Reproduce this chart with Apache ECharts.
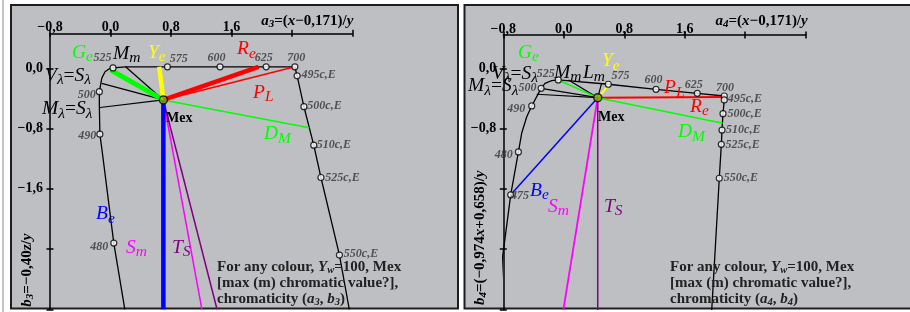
<!DOCTYPE html>
<html>
<head>
<meta charset="utf-8">
<script src="https://cdn.jsdelivr.net/npm/echarts@6/dist/echarts.min.js"></script>
<style>
  html, body { margin: 0; padding: 0; background: #fff; }
  #chart { width: 910px; height: 312px; }
</style>
</head>
<body>
<div id="chart"></div>
<script>
// axis ticks shared by both panels
var xTicks = [-0.8, 0, 0.8, 1.6, 2.4, 3.2];
var xLabels = [-0.8, 0, 0.8, 1.6];
var yTicks = [-3.2, -2.4, -1.6, -0.8, 0];
var yLabels3 = [-1.6, -0.8, 0];
var yLabels4 = [-0.8, 0];

// left panel: (a3, b3)
var mex3 = [0.70, -0.42];
var locus3 = [[0.19, -3.2], [0.044, -2.32], [-0.11, -1.1], [-0.14, -0.875], [-0.147, -0.5],
  [-0.147, -0.31], [-0.115, -0.133], [-0.072, -0.045], [-0.005, 0.0], [0.034, 0.005],
  [0.2, 0.02], [0.754, 0.02], [1.45, 0.02], [2.06, 0.02], [2.44, 0.02], [2.47, -0.1],
  [2.56, -0.51], [2.69, -1.02], [2.785, -1.45], [3.03, -2.48], [3.16, -3.2]];
var marks3 = [['525', 0.034, 0.005], ['500', -0.147, -0.31], ['490', -0.14, -0.875],
  ['480', 0.044, -2.32], ['575', 0.754, 0.02], ['600', 1.45, 0.02], ['625', 2.06, 0.02],
  ['700', 2.44, 0.02], ['495c,E', 2.47, -0.1], ['500c,E', 2.56, -0.51],
  ['510c,E', 2.69, -1.02], ['525c,E', 2.785, -1.45], ['550c,E', 3.03, -2.48]];
var rays3 = [['Mm', 0.2, 0.02], ['Vl', -0.116, -0.2], ['Ml', -0.138, -0.52],
  ['PL', 2.44, 0.02], ['DM', 2.63, -0.79], ['Sm', 1.21, -3.2], ['TS', 1.41, -3.2],
  ['Ge', 0.0, -0.02], ['Ye', 0.645, 0.02], ['Re', 1.96, 0.02], ['Be', 0.70, -3.2]];

// right panel: (a4, b4)
var mex4 = [0.449, -0.39];
var locus4 = [[-0.844, -3.21], [-0.813, -2.53], [-0.702, -1.68], [-0.60, -1.11],
  [-0.557, -0.863], [-0.49, -0.643], [-0.424, -0.50], [-0.30, -0.266], [-0.248, -0.2],
  [-0.16, -0.165], [-0.073, -0.155], [0.589, -0.212], [1.22, -0.279], [1.766, -0.332],
  [2.123, -0.368], [2.123, -0.42], [2.106, -0.603], [2.093, -0.82], [2.084, -1.01],
  [2.057, -1.46], [1.957, -3.21]];
var marks4 = [['525', -0.073, -0.155], ['500', -0.30, -0.266], ['490', -0.424, -0.50],
  ['480', -0.60, -1.11], ['475', -0.702, -1.68], ['470', -0.813, -2.53],
  ['575', 0.589, -0.212], ['600', 1.22, -0.279], ['625', 1.766, -0.332],
  ['700', 2.123, -0.368], ['495c,E', 2.123, -0.42], ['500c,E', 2.106, -0.603],
  ['510c,E', 2.093, -0.82], ['525c,E', 2.084, -1.01], ['550c,E', 2.057, -1.46]];
var rays4 = [['Mm', 0.063, -0.155], ['Lm', 0.50, -0.2], ['Vl', -0.30, -0.266],
  ['Ml', -0.358, -0.345], ['Ge', -0.073, -0.155], ['Ye', 0.598, -0.222],
  ['Re', 2.123, -0.38], ['DM', 2.102, -0.73], ['Be', -0.702, -1.68],
  ['Sm', -0.006, -3.21], ['TS', 0.449, -3.21]];

// styles
var SERIF = '"Liberation Serif", "Times New Roman", serif';
var GRAY = '#bebfc3';
var GREEN = '#00ff00', YELLOW = '#ffff00', RED = '#ff0000', BLUE = '#0000ff',
  MAG = '#ff00ff', PURP = '#800080';

var rayStyle3 = {
  Mm: ['#000', 1.2], Vl: ['#000', 1.2], Ml: ['#000', 1.2], PL: [RED, 1.5],
  DM: [GREEN, 1.5], Sm: [MAG, 1.5], TS: [PURP, 1.5],
  Ge: [GREEN, 5], Ye: [YELLOW, 4.5], Re: [RED, 4.5], Be: [BLUE, 4.5]
};
var rayStyle4 = {
  Mm: ['#000', 1.2], Lm: ['#000', 1.2], Vl: ['#000', 1.2], Ml: ['#000', 1.2],
  Ge: [GREEN, 1.5], Ye: [YELLOW, 2], Re: [RED, 2], DM: [GREEN, 1.5],
  Be: [BLUE, 1.5], Sm: [MAG, 1.8], TS: [PURP, 1.5]
};
// label placement for the marked points: [align, dx, dy] from the point
var labPos3 = {
  '525': ['right', -1, -9], '500': ['right', -3, 3.5], '490': ['right', -3, 2],
  '480': ['right', -5, 4], '575': ['left', 3, -7.5], '600': ['left', -12, -8.5],
  '625': ['left', -10.7, -8.5], '700': ['left', -7, -8.5], '495c,E': ['left', 5, -0.5],
  '500c,E': ['left', 4, 0], '510c,E': ['left', 3.5, 0], '525c,E': ['left', 5, 0.5],
  '550c,E': ['left', 5, -0.5]
};
var labPos4 = {
  '525': ['right', -3, -5], '500': ['right', -4, 0], '490': ['right', -6, 4],
  '480': ['right', -5, 4], '475': ['left', 1, 2], '470': ['right', -4, 3.5],
  '575': ['left', 3.7, -7.6], '600': ['left', -11, -9], '625': ['left', -12, -7.5],
  '700': ['left', -7.6, -7.7], '495c,E': ['left', 4, 0], '500c,E': ['left', 5, 0.6],
  '510c,E': ['left', 4.7, 0.7], '525c,E': ['left', 4.7, 1], '550c,E': ['left', 5, 0]
};

var RICH = {
  i: { fontFamily: SERIF, fontStyle: 'italic', fontSize: 19.5 },
  s: { fontFamily: SERIF, fontStyle: 'italic', fontSize: 15.5, padding: [9, 0, 0, 0] },
  n: { fontFamily: SERIF, fontSize: 19.5 },
  b: { fontFamily: SERIF, fontWeight: 'bold', fontSize: 15 },
  bi: { fontFamily: SERIF, fontWeight: 'bold', fontStyle: 'italic', fontSize: 15 },
  bs: { fontFamily: SERIF, fontWeight: 'bold', fontStyle: 'italic', fontSize: 10.5, padding: [7, 0, 0, 0] },
  m: { fontFamily: SERIF, fontWeight: 'bold', fontSize: 14 },
  t: { fontFamily: SERIF, fontWeight: 'bold', fontSize: 15 },
  ti: { fontFamily: SERIF, fontWeight: 'bold', fontStyle: 'italic', fontSize: 15 },
  ts: { fontFamily: SERIF, fontWeight: 'bold', fontStyle: 'italic', fontSize: 11, padding: [7, 0, 0, 0] }
};

function fmt(v) {
  return v.toFixed(1).replace('.', ',').replace('-', '\u2212');
}

function note(x, y, text, color, extra) {
  var el = {
    type: 'text', x: x, y: y, z: 100, silent: true,
    style: { text: text, fill: color, rich: RICH, align: 'left', verticalAlign: 'middle',
      font: 'italic 19px ' + SERIF }
  };
  return Object.assign(el, extra || {});
}

function makeAxes(gi, yLabels, ymax) {
  var line = { show: true, onZero: false, lineStyle: { color: '#000', width: 1.5 } };
  var lab = { fontFamily: SERIF, fontWeight: 'bold', fontSize: 14, color: '#000', formatter: fmt };
  var x = [
    { type: 'value', gridIndex: gi, position: 'top', min: -0.8, max: 3.2,
      axisLine: line, splitLine: { show: false },
      axisTick: { length: 3.5, customValues: xTicks, lineStyle: { color: '#000', width: 1.5 } },
      axisLabel: Object.assign({ customValues: xLabels, margin: -1 }, lab) },
    { type: 'value', gridIndex: gi, position: 'top', min: -0.8, max: 3.2,
      axisLine: { show: false, onZero: false }, splitLine: { show: false },
      axisTick: { inside: true, length: 3.5, customValues: xTicks, lineStyle: { color: '#000', width: 1.5 } },
      axisLabel: { show: false } }
  ];
  var y = [
    { type: 'value', gridIndex: gi, position: 'left', min: -3.2, max: ymax,
      axisLine: line, splitLine: { show: false },
      axisTick: { length: 3.5, customValues: yTicks, lineStyle: { color: '#000', width: 1.5 } },
      axisLabel: Object.assign({ customValues: yLabels, margin: 7 }, lab) },
    { type: 'value', gridIndex: gi, position: 'left', min: -3.2, max: ymax,
      axisLine: { show: false, onZero: false }, splitLine: { show: false },
      axisTick: { inside: true, length: 3.5, customValues: yTicks, lineStyle: { color: '#000', width: 1.5 } },
      axisLabel: { show: false } }
  ];
  return { x: x, y: y };
}

function panelSeries(gi, locus, marks, labPos, rays, rayStyle, mex) {
  var ai = gi * 2;
  var out = [];
  out.push({ type: 'line', xAxisIndex: ai, yAxisIndex: ai, data: locus, symbol: 'none',
    silent: true, z: 3, lineStyle: { color: '#000', width: 1.3 } });
  rays.forEach(function (r) {
    var st = rayStyle[r[0]];
    out.push({ type: 'line', xAxisIndex: ai, yAxisIndex: ai, data: [mex, [r[1], r[2]]],
      symbol: 'none', silent: true, z: st[1] > 3 ? 5 : 4,
      lineStyle: { color: st[0], width: st[1] } });
  });
  out.push({ type: 'scatter', xAxisIndex: ai, yAxisIndex: ai, silent: true, z: 6,
    symbol: 'circle', symbolSize: 6,
    itemStyle: { color: '#fff', borderColor: '#000', borderWidth: 1.2 },
    data: marks.map(function (m) {
      var p = labPos[m[0]];
      return { value: [m[1], m[2]], name: m[0],
        label: { show: true, formatter: m[0], position: [p[1] + 3, p[2] + 3],
          align: p[0], verticalAlign: 'middle', color: '#333', fontFamily: SERIF,
          fontStyle: 'italic', fontWeight: 'bold', fontSize: 12 } };
    }) });
  out.push({ type: 'scatter', xAxisIndex: ai, yAxisIndex: ai, silent: true, z: 7,
    symbol: 'circle', symbolSize: 8, data: [mex],
    itemStyle: { color: '#8aae00', borderColor: '#000', borderWidth: 1.5 } });
  return out;
}

var ax3 = makeAxes(0, yLabels3, 0.465);
var ax4 = makeAxes(1, yLabels4, 0.442);

var notes = [
  // left panel
  note(72, 52.5, '{i|G}{s|e}', GREEN),
  note(113, 53.5, '{i|M}{s|m}', '#000'),
  note(148, 52.5, '{i|Y}{s|e}', YELLOW),
  note(237, 49, '{i|R}{s|e}', RED),
  note(253, 92.5, '{i|P}{s|L}', RED),
  note(264, 134, '{i|D}{s|M}', GREEN),
  note(45, 75.5, '{i|V}{s|λ}{n|=}{i|S}{s|λ}', '#000'),
  note(42, 109, '{i|M}{s|λ}{n|=}{i|S}{s|λ}', '#000'),
  note(96, 214, '{i|B}{s|e}', BLUE),
  note(126, 247.5, '{i|S}{s|m}', MAG),
  note(172, 247.5, '{i|T}{s|S}', PURP),
  note(166, 118, '{m|Mex}', '#000'),
  note(353.3, 21, '{ti|a}{ts|3}{t|=(}{ti|x}{t|\u22120,171)/}{ti|y}', '#000', {}),
  note(26.7, 306.7, '{ti|b}{ts|3}{t|=\u22120,40}{ti|z}{t|/}{ti|y}', '#000', { rotation: Math.PI / 2 }),
  note(217, 266.7, '{b|For any colour, }{bi|Y}{bs|w}{b|=100, Mex}', '#222'),
  note(217, 283.3, '{b|[max (m) chromatic value?],}', '#222'),
  note(217, 299, '{b|chromaticity (}{bi|a}{bs|3}{b|, }{bi|b}{bs|3}{b|)}', '#222'),
  // right panel
  note(518, 52.5, '{i|G}{s|e}', GREEN),
  note(602, 61, '{i|Y}{s|e}', YELLOW),
  note(554, 72.5, '{i|M}{s|m}', '#000'),
  note(583, 72.5, '{i|L}{s|m}', '#000'),
  note(492, 73.5, '{i|V}{s|λ}{n|=}{i|S}{s|λ}', '#000'),
  note(468, 86, '{i|M}{s|λ}{n|=}{i|S}{s|λ}', '#000'),
  note(664, 88, '{i|P}{s|L}', RED),
  note(690, 106.5, '{i|R}{s|e}', RED),
  note(678, 132, '{i|D}{s|M}', GREEN),
  note(530, 190.5, '{i|B}{s|e}', BLUE),
  note(548, 206.5, '{i|S}{s|m}', MAG),
  note(604, 206.5, '{i|T}{s|S}', PURP),
  note(598, 117, '{m|Mex}', '#000'),
  note(807.7, 21, '{ti|a}{ts|4}{t|=(}{ti|x}{t|\u22120,171)/}{ti|y}', '#000', {}),
  note(480, 305, '{ti|b}{ts|4}{t|=(\u22120,974}{ti|x}{t|+0,658)/}{ti|y}', '#000', { rotation: Math.PI / 2 }),
  note(670, 266.7, '{b|For any colour, }{bi|Y}{bs|w}{b|=100, Mex}', '#222'),
  note(670, 283.3, '{b|[max (m) chromatic value?],}', '#222'),
  note(670, 299, '{b|chromaticity (}{bi|a}{bs|4}{b|, }{bi|b}{bs|4}{b|)}', '#222')
];
// axis titles on top are right aligned
notes[12].style.align = 'right';
notes[30].style.align = 'right';

var option = {
  backgroundColor: '#fff',
  animation: false,
  grid: [
    { left: 50, top: 33.3, width: 302.3, bottom: 2.7 },
    { left: 503.3, top: 35, width: 302.4, bottom: 2.7 }
  ],
  xAxis: ax3.x.concat(ax4.x),
  yAxis: ax3.y.concat(ax4.y),
  graphic: { elements: [
    { type: 'line', z: -100, silent: true, shape: { x1: 3, y1: 0, x2: 3, y2: 312 },
      style: { stroke: '#888', lineWidth: 1 } },
    { type: 'rect', z: -100, silent: true, shape: { x: 11, y: 5, width: 447, height: 303.5 },
      style: { fill: GRAY, stroke: '#1e1e1e', lineWidth: 2 } },
    { type: 'rect', z: -100, silent: true, shape: { x: 464.5, y: 5, width: 460, height: 303.5 },
      style: { fill: GRAY, stroke: '#1e1e1e', lineWidth: 2 } }
  ].concat(notes) },
  series: panelSeries(0, locus3, marks3, labPos3, rays3, rayStyle3, mex3)
    .concat(panelSeries(1, locus4, marks4, labPos4, rays4, rayStyle4, mex4))
};

var myChart = echarts.init(document.getElementById('chart'));
myChart.setOption(option);
</script>
</body>
</html>
